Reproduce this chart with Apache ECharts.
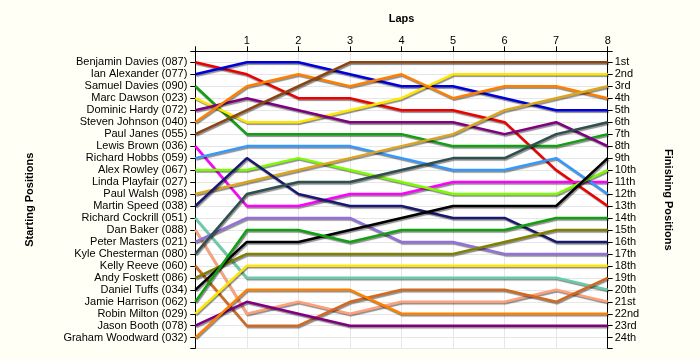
<!DOCTYPE html>
<html><head><meta charset="utf-8">
<script src="https://cdn.jsdelivr.net/npm/echarts@6/dist/echarts.min.js"></script>
<style>html,body{margin:0;padding:0;background:#FFFFF5}#c{width:700px;height:360px}</style>
</head><body><div id="c"></div>
<script>
const laps = [0, 1, 2, 3, 4, 5, 6, 7, 8];
const drivers = ['Benjamin Davies (087)','Ian Alexander (077)','Samuel Davies (090)','Marc Dawson (023)','Dominic Hardy (072)','Steven Johnson (040)','Paul Janes (055)','Lewis Brown (036)','Richard Hobbs (059)','Alex Rowley (067)','Linda Playfair (027)','Paul Walsh (098)','Martin Speed (038)','Richard Cockrill (051)','Dan Baker (088)','Peter Masters (021)','Kyle Chesterman (080)','Kelly Reeve (060)','Andy Foskett (086)','Daniel Tuffs (034)','Jamie Harrison (062)','Robin Milton (029)','Jason Booth (078)','Graham Woodward (032)'];
const finishLabels = ['1st','2nd','3rd','4th','5th','6th','7th','8th','9th','10th','11th','12th','13th','14th','15th','16th','17th','18th','19th','20th','21st','22nd','23rd','24th'];
// positions per lap (lap 0 = start)
const p087 = [1, 2, 4, 4, 5, 5, 6, 10, 13];
const p077 = [2, 1, 1, 2, 3, 3, 4, 5, 5];
const p090 = [3, 7, 7, 7, 7, 8, 8, 8, 7];
const p023 = [4, 6, 6, 5, 4, 2, 2, 2, 2];
const p072 = [5, 4, 5, 6, 6, 6, 7, 6, 8];
const p040 = [6, 3, 2, 3, 2, 4, 3, 3, 4];
const p055 = [7, 5, 3, 1, 1, 1, 1, 1, 1];
const p036 = [8, 13, 13, 12, 12, 11, 11, 11, 11];
const p059 = [9, 8, 8, 8, 9, 10, 10, 9, 12];
const p067 = [10, 10, 9, 10, 11, 12, 12, 12, 10];
const p027 = [];
const p098 = [12, 11, 10, 9, 8, 7, 5, 4, 3];
const p038 = [13, 9, 12, 13, 13, 14, 14, 16, 16];
const p051 = [14, 19, 19, 19, 19, 19, 19, 19, 20];
const p088 = [15, 22, 21, 22, 21, 21, 21, 20, 21];
const p021 = [16, 14, 14, 14, 16, 16, 17, 17, 17];
const p080 = [17, 12, 11, 11, 10, 9, 9, 7, 6];
const p060 = [18, 23, 23, 21, 20, 20, 20, 21, 19];
const p086 = [19, 17, 17, 17, 17, 17, 16, 15, 15];
const p034 = [20, 16, 16, 15, 14, 13, 13, 13, 9];
const p062 = [21, 15, 15, 16, 15, 15, 15, 14, 14];
const p029 = [22, 18, 18, 18, 18, 18, 18, 18, 18];
const p078 = [23, 21, 22, 23, 23, 23, 23, 23, 23];
const p032 = [24, 20, 20, 20, 22, 22, 22, 22, 22];
const driverLaps = [p087,p077,p090,p023,p072,p040,p055,p036,p059,p067,p027,p098,p038,p051,p088,p021,p080,p060,p086,p034,p062,p029,p078,p032];
const colors = ['#EE0000','#0000DD','#10A010','#FFE600','#800080','#FF8000','#8B4513','#FF00FF','#3399FF','#7CFC00','#C0C0C0','#DAA520','#191970','#66CDAA','#FFA07A','#9370DB','#2F4F4F','#D2691E','#808000','#000000','#10A010','#FFE600','#800080','#FF8000'];

const posTicks = drivers.map((d, i) => i + 1);
const pMin = 0.081, pMax = 24.885;
const FONT = 'Liberation Sans, Arial, sans-serif';

const series = driverLaps.map((arr, i) => ({
  name: drivers[i],
  type: 'line',
  data: arr.map((p, k) => [laps[k], p]),
  symbol: 'none',
  lineStyle: { width: 2.5, color: colors[i], shadowColor: 'rgba(0,0,0,0.45)', shadowBlur: 1, shadowOffsetX: 1, shadowOffsetY: 1.5 },
  itemStyle: { color: colors[i] },
  animation: false
}));

const chart = echarts.init(document.getElementById('c'), null, { renderer: 'canvas' });
chart.setOption({
  backgroundColor: '#FFFFF5',
  animation: false,
  grid: { left: 195.3, right: 92.3, top: 51.3, bottom: 11.7, show: true, backgroundColor: '#FFFFFF', borderWidth: 0 },
  xAxis: {
    type: 'value', position: 'top', min: 0, max: 8, interval: 1,
    name: 'Laps', nameLocation: 'middle', nameGap: 27,
    nameTextStyle: { fontFamily: FONT, fontSize: 11, fontWeight: 'bold', color: '#000' },
    axisLine: { show: true, lineStyle: { color: '#000', width: 1 } },
    axisTick: { show: true, length: 5, lineStyle: { color: '#000' } },
    axisLabel: { margin: 5, fontFamily: FONT, fontSize: 11, color: '#000', formatter: v => v === 0 ? '' : String(v) },
    splitLine: { show: true, lineStyle: { color: '#E6E6E6', width: 1 } }
  },
  yAxis: [{
    type: 'value', position: 'left', inverse: true, min: pMin, max: pMax,
    name: 'Starting Positions', nameLocation: 'middle', nameGap: 160, nameRotate: 90,
    nameTextStyle: { fontFamily: FONT, fontSize: 11, fontWeight: 'bold', color: '#000' },
    axisLine: { show: true, onZero: false, lineStyle: { color: '#000', width: 1 } },
    axisTick: { show: true, length: 5, customValues: [pMin].concat(posTicks, [pMax]), lineStyle: { color: '#000' } },
    axisLabel: { customValues: posTicks, margin: 8, fontFamily: FONT, fontSize: 11, color: '#000', formatter: v => drivers[Math.round(v) - 1] || '' },
    splitLine: { show: true, lineStyle: { color: '#E6E6E6', width: 1 } }
  }, {
    type: 'value', position: 'right', inverse: true, min: pMin, max: pMax,
    name: 'Finishing Positions', nameLocation: 'middle', nameGap: 55, nameRotate: -90,
    nameTextStyle: { fontFamily: FONT, fontSize: 11, fontWeight: 'bold', color: '#000' },
    axisLine: { show: true, onZero: false, lineStyle: { color: '#000', width: 1 } },
    axisTick: { show: true, length: 5, customValues: [pMin].concat(posTicks, [pMax]), lineStyle: { color: '#000' } },
    axisLabel: { customValues: posTicks, margin: 7, fontFamily: FONT, fontSize: 11, color: '#000', formatter: v => finishLabels[Math.round(v) - 1] || '' },
    splitLine: { show: false }
  }],
  series: series
});
</script>
</body></html>
